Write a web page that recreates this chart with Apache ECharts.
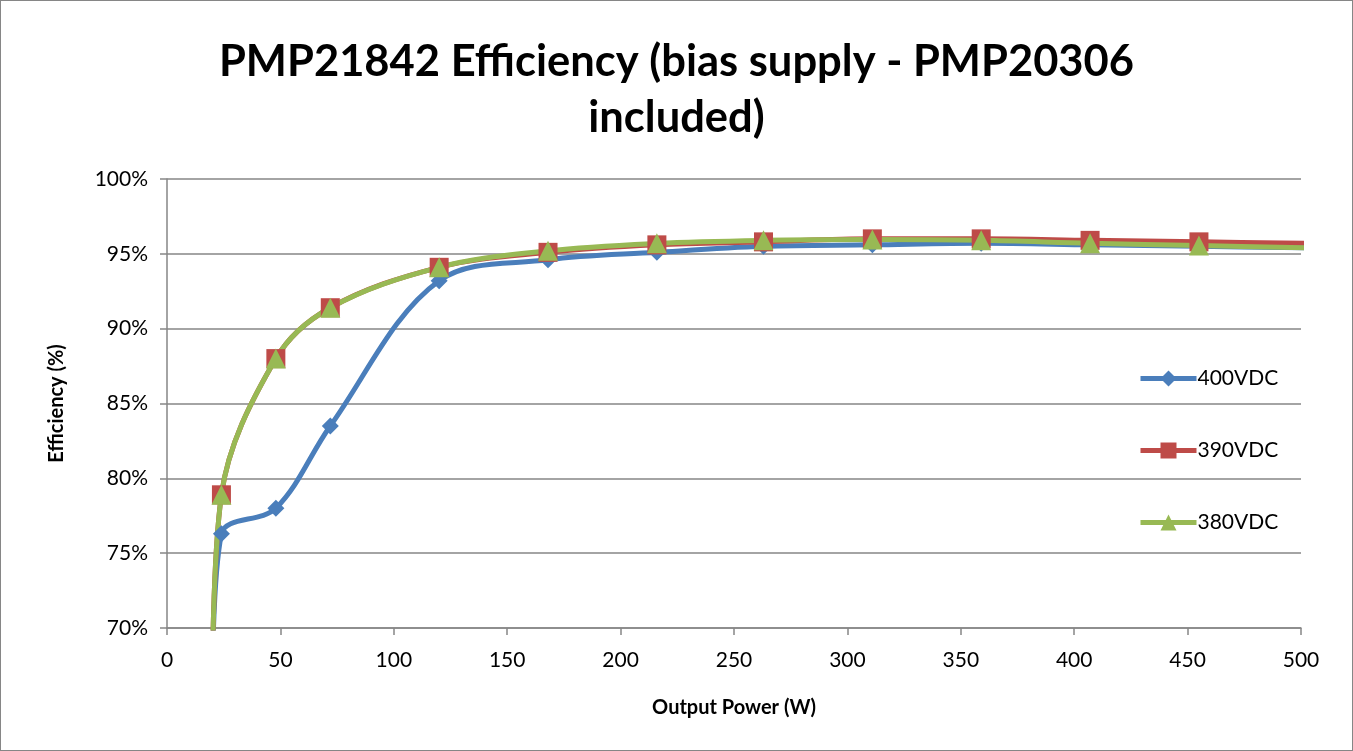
<!DOCTYPE html>
<html>
<head>
<meta charset="utf-8">
<script src="https://cdn.jsdelivr.net/npm/echarts@6/dist/echarts.min.js"></script>
<style>
    html, body { margin: 0; padding: 0; background: #fff; }
    #chart { width: 1353px; height: 751px; box-sizing: border-box; border: 1px solid #868686; }
</style>
</head>
<body>
<div id="chart"></div>
<script>
// Output power (W) for every measurement point
var power = [20, 24, 48, 72, 120, 168, 216, 263, 311, 359, 407, 455, 503];

// Efficiency (%) per input voltage
var eff400 = [66, 76.3, 78.0, 83.5, 93.2, 94.6, 95.1, 95.5, 95.6, 95.7, 95.6, 95.5, 95.4];
var eff390 = [66, 78.9, 88.0, 91.4, 94.1, 95.1, 95.6, 95.8, 96.0, 96.0, 95.9, 95.8, 95.7];
var eff380 = [66, 78.9, 88.0, 91.4, 94.1, 95.2, 95.7, 95.9, 95.95, 95.9, 95.7, 95.55, 95.4];

var seriesNames = ['400VDC', '390VDC', '380VDC'];
var seriesColors = ['#4A7EBB', '#BE4B48', '#98B954'];

var pair = function (ys) {
    return power.map(function (x, i) { return [x, ys[i]]; });
};

var chart_element = document.getElementById('chart');

if (chart_element) {
    var chart = echarts.init(chart_element);

    var fontFamily = 'Lato, "Open Sans", sans-serif';

    chart.setOption({
        animation: false,
        textStyle: { fontFamily: fontFamily },

        // Title
        title: {
            text: 'PMP21842 Efficiency (bias supply - PMP20306\nincluded)',
            left: 'center',
            top: 28,
            textStyle: {
                fontSize: 43.5,
                fontWeight: 'bold',
                color: '#000',
                lineHeight: 56,
                fontFamily: fontFamily
            }
        },

        // Legend
        legend: {
            orient: 'vertical',
            left: 1132,
            top: 362,
            itemWidth: 56,
            itemHeight: 20,
            itemGap: 51,
            data: seriesNames,
            lineStyle: { width: 5 },
            textStyle: { fontSize: 21, color: '#000', padding: [0, 0, 0, -4] }
        },

        // Setup grid
        grid: {
            left: 166,
            right: 51,
            top: 178,
            bottom: 122
        },

        // Horizontal axis
        xAxis: {
            type: 'value',
            min: 0,
            max: 500,
            interval: 50,
            name: 'Output Power (W)',
            nameLocation: 'middle',
            nameGap: 70,
            nameTextStyle: { fontSize: 20, fontWeight: 'bold', color: '#000' },
            axisLine: { lineStyle: { color: '#868686', width: 1.5 } },
            axisTick: { show: true, length: 7, lineStyle: { color: '#868686', width: 1.5 } },
            axisLabel: { fontSize: 21, color: '#000', margin: 22 },
            splitLine: { show: false }
        },

        // Vertical axis
        yAxis: {
            type: 'value',
            min: 70,
            max: 100,
            interval: 5,
            name: 'Efficiency (%)',
            nameLocation: 'middle',
            nameGap: 100,
            nameRotate: 90,
            nameTextStyle: { fontSize: 20, fontWeight: 'bold', color: '#000' },
            axisLine: { show: true, lineStyle: { color: '#868686', width: 1.5 } },
            axisTick: { show: true, length: 7, lineStyle: { color: '#868686', width: 1.5 } },
            axisLabel: { fontSize: 21, color: '#000', margin: 19, formatter: '{value}%' },
            splitLine: { lineStyle: { color: '#868686', width: 1.5 } }
        },

        // Add series
        series: [
            {
                name: seriesNames[0],
                type: 'line',
                smooth: 0.35,
                clip: true,
                data: pair(eff400),
                color: seriesColors[0],
                lineStyle: { width: 5 },
                symbol: 'diamond',
                symbolSize: 17,
                showAllSymbol: true,
                itemStyle: { color: seriesColors[0] }
            },
            {
                name: seriesNames[1],
                type: 'line',
                smooth: 0.35,
                clip: true,
                data: pair(eff390),
                color: seriesColors[1],
                lineStyle: { width: 5 },
                symbol: 'rect',
                symbolSize: 19,
                showAllSymbol: true,
                itemStyle: { color: seriesColors[1] }
            },
            {
                name: seriesNames[2],
                type: 'line',
                smooth: 0.35,
                clip: true,
                data: pair(eff380),
                color: seriesColors[2],
                lineStyle: { width: 5 },
                symbol: 'triangle',
                symbolSize: 20,
                showAllSymbol: true,
                itemStyle: { color: seriesColors[2] }
            }
        ]
    });

    window.addEventListener('resize', function () {
        chart.resize();
    });
}
</script>
</body>
</html>
